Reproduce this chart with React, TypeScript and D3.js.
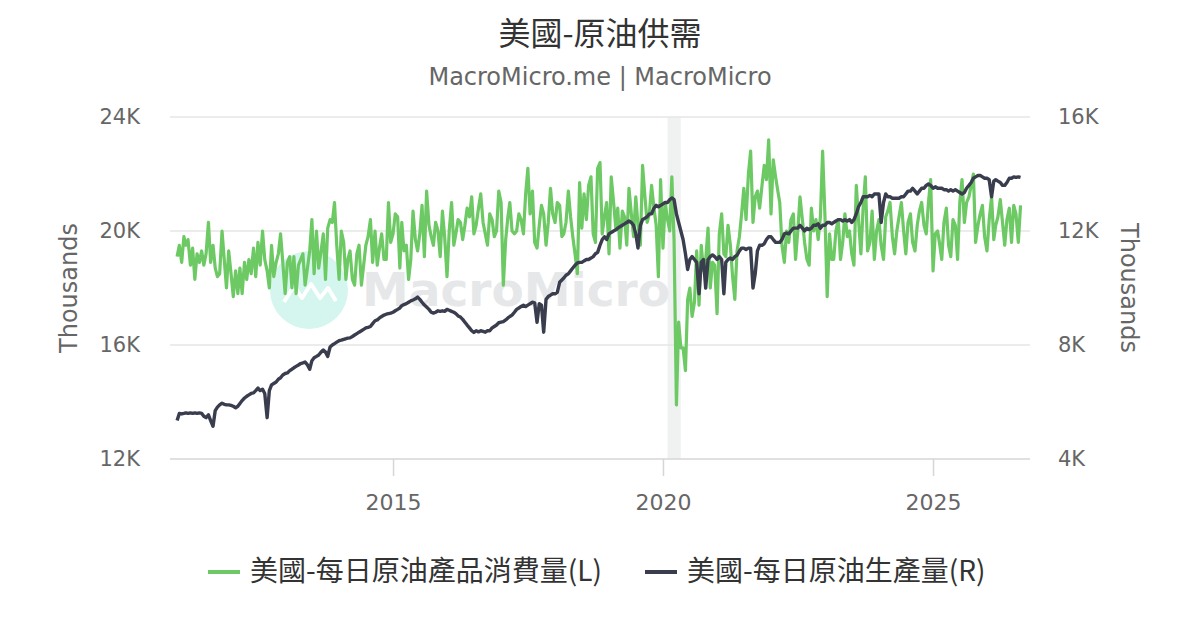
import { useEffect, useRef } from "react";
import * as d3 from "d3";

// semimonthly readings (1st and 16th of each month), thousand barrels per day
const years = [2011, 2012, 2013, 2014, 2015, 2016, 2017, 2018, 2019, 2020, 2021, 2022, 2023, 2024, 2025, 2026];

// 美國-每日原油產品消費量 (left axis)
const cons2011 = [19.1, 19.5, 18.9, 19.8, 19.5, 19.7, 18.8, 19.4, 18.3, 19.2, 18.9, 19.3, 18.8, 19.2, 20.3, 18.9, 19.5, 18.7, 18.4, 18.5, 20.0, 19.0, 18.0, 19.3];
const cons2012 = [18.5, 17.7, 18.6, 17.8, 18.7, 17.8, 18.9, 18.3, 19.0, 18.5, 19.4, 18.4, 19.6, 18.8, 20.0, 19.0, 18.6, 18.0, 19.5, 18.4, 18.9, 19.2, 19.9, 18.9];
const cons2013 = [17.8, 18.9, 19.1, 18.0, 19.1, 17.8, 18.8, 19.0, 19.2, 18.1, 18.7, 19.3, 20.4, 18.5, 20.0, 18.7, 19.3, 19.9, 18.3, 20.1, 20.4, 20.3, 21.0, 19.5];
const cons2014 = [18.3, 20.0, 19.6, 18.3, 19.0, 19.3, 18.3, 18.1, 19.2, 19.5, 18.1, 18.8, 19.5, 19.8, 20.4, 18.9, 20.0, 18.8, 19.4, 19.9, 19.0, 19.0, 21.0, 19.6];
const cons2015 = [19.9, 20.6, 20.5, 18.7, 20.3, 19.3, 19.5, 18.3, 19.0, 20.7, 19.7, 19.3, 19.9, 20.9, 19.1, 21.4, 20.2, 19.8, 19.5, 20.3, 20.0, 19.1, 20.7, 19.8];
const cons2016 = [18.4, 20.0, 21.0, 19.5, 19.9, 20.4, 20.3, 19.7, 20.2, 20.8, 20.5, 21.2, 19.9, 20.2, 20.8, 21.3, 20.3, 19.9, 19.5, 20.6, 20.4, 19.8, 20.0, 21.4];
const cons2017 = [21.0, 18.1, 19.7, 20.5, 21.0, 20.0, 19.9, 20.0, 20.6, 20.4, 19.9, 21.3, 22.2, 20.6, 21.4, 19.6, 19.4, 20.2, 20.9, 20.6, 19.5, 20.3, 21.5, 20.6];
const cons2018 = [20.3, 21.0, 20.9, 19.8, 19.9, 20.3, 21.4, 20.5, 19.8, 19.2, 18.5, 21.7, 20.1, 21.3, 20.4, 21.6, 21.9, 19.9, 19.6, 22.2, 22.4, 19.9, 20.5, 21.0];
const cons2019 = [19.2, 21.9, 21.0, 20.1, 20.8, 19.4, 20.7, 20.5, 19.5, 21.5, 20.6, 19.8, 21.2, 20.2, 19.5, 22.3, 21.2, 20.3, 20.6, 21.6, 20.8, 20.2, 18.4, 21.8];
const cons2020 = [19.4, 21.0, 20.4, 20.0, 21.9, 19.7, 13.9, 16.8, 15.9, 15.9, 15.1, 17.6, 18.0, 17.0, 17.5, 19.3, 17.4, 19.5, 18.6, 19.0, 20.1, 18.0, 18.9, 18.8];
const cons2021 = [17.1, 19.9, 20.6, 19.2, 19.1, 20.2, 19.5, 18.4, 17.6, 19.3, 19.8, 20.6, 21.5, 20.4, 22.0, 22.8, 20.3, 21.2, 21.4, 20.8, 21.6, 22.3, 21.8, 23.2];
const cons2022 = [20.6, 22.5, 21.9, 21.4, 21.0, 19.5, 18.9, 20.0, 19.6, 20.4, 20.6, 19.0, 20.0, 21.2, 20.4, 19.6, 19.0, 18.8, 20.8, 20.0, 20.4, 19.7, 20.5, 22.8];
const cons2023 = [20.5, 17.7, 19.9, 19.0, 19.0, 20.0, 20.4, 19.0, 19.6, 20.6, 19.8, 20.0, 19.2, 18.8, 21.6, 20.4, 19.2, 20.8, 21.9, 19.3, 19.6, 20.7, 19.0, 20.0];
const cons2024 = [20.4, 19.5, 19.0, 20.5, 20.7, 21.0, 19.8, 19.2, 20.0, 20.5, 21.0, 20.0, 19.2, 20.3, 20.6, 19.6, 19.3, 20.2, 20.7, 21.0, 20.2, 19.9, 21.0, 21.8];
const cons2025 = [18.6, 19.9, 20.0, 19.5, 19.0, 20.3, 20.8, 19.5, 19.1, 20.4, 20.2, 19.0, 21.0, 21.8, 20.3, 21.0, 21.2, 21.6, 22.0, 19.6, 20.2, 20.6, 20.9, 19.8];
const cons2026 = [19.3, 20.4, 21.2, 19.7, 20.2, 20.5, 21.1, 20.3, 19.5, 20.4, 20.8, 19.6, 20.9, 20.6, 19.6, 20.9];

// 美國-每日原油生產量 (right axis)
const prod2011 = [5.35, 5.6, 5.58, 5.6, 5.62, 5.6, 5.62, 5.6, 5.62, 5.6, 5.62, 5.6, 5.5, 5.45, 5.55, 5.35, 5.15, 5.7, 5.82, 5.9, 5.96, 5.92, 5.9, 5.9];
const prod2012 = [5.88, 5.85, 5.8, 5.85, 5.95, 6.05, 6.14, 6.2, 6.25, 6.3, 6.32, 6.4, 6.49, 6.4, 6.45, 6.3, 5.45, 6.4, 6.6, 6.65, 6.7, 6.8, 6.85, 6.95];
const prod2013 = [7.0, 7.02, 7.1, 7.15, 7.2, 7.25, 7.3, 7.35, 7.37, 7.4, 7.3, 7.15, 7.45, 7.55, 7.6, 7.65, 7.75, 7.82, 7.75, 7.6, 7.93, 8.0, 8.05, 8.1];
const prod2014 = [8.15, 8.17, 8.2, 8.22, 8.24, 8.25, 8.3, 8.35, 8.4, 8.45, 8.5, 8.55, 8.6, 8.62, 8.65, 8.75, 8.85, 8.88, 8.95, 9.0, 9.05, 9.08, 9.1, 9.12];
const prod2015 = [9.15, 9.2, 9.25, 9.3, 9.38, 9.42, 9.45, 9.5, 9.55, 9.58, 9.62, 9.68, 9.6, 9.5, 9.4, 9.33, 9.25, 9.15, 9.12, 9.15, 9.2, 9.18, 9.2, 9.18];
const prod2016 = [9.25, 9.22, 9.18, 9.15, 9.1, 9.02, 8.98, 8.9, 8.8, 8.7, 8.6, 8.5, 8.44, 8.5, 8.46, 8.5, 8.48, 8.45, 8.5, 8.5, 8.6, 8.65, 8.7, 8.78];
const prod2017 = [8.8, 8.82, 8.88, 8.95, 9.0, 9.05, 9.15, 9.25, 9.3, 9.35, 9.4, 9.35, 9.4, 9.45, 9.5, 9.48, 8.8, 9.45, 9.4, 8.45, 9.6, 9.7, 9.75, 9.8];
const prod2018 = [9.8, 9.85, 10.2, 10.28, 10.35, 10.45, 10.5, 10.6, 10.7, 10.8, 10.88, 10.9, 10.9, 10.95, 11.0, 11.0, 11.05, 11.1, 11.2, 11.25, 11.5, 11.7, 11.8, 11.7];
const prod2019 = [11.9, 11.95, 12.0, 12.04, 12.1, 12.15, 12.2, 12.25, 12.3, 12.35, 12.3, 12.2, 11.9, 11.4, 12.2, 12.4, 12.45, 12.5, 12.6, 12.6, 12.8, 12.9, 12.85, 12.9];
const prod2020 = [12.95, 13.0, 13.0, 13.1, 13.16, 13.1, 12.6, 12.3, 12.0, 11.7, 11.2, 10.65, 11.0, 11.1, 11.0, 10.9, 9.8, 10.9, 11.0, 10.0, 11.0, 11.1, 11.16, 11.1];
const prod2021 = [11.0, 11.1, 11.0, 9.8, 10.9, 11.0, 11.05, 11.0, 11.1, 11.15, 11.3, 11.4, 11.4, 11.35, 11.4, 11.4, 10.0, 10.5, 11.3, 11.5, 11.5, 11.55, 11.7, 11.8];
const prod2022 = [11.8, 11.7, 11.6, 11.6, 11.6, 11.7, 11.9, 11.93, 11.9, 12.0, 12.1, 12.1, 12.1, 12.2, 12.1, 12.0, 12.1, 12.05, 12.1, 12.2, 12.2, 12.25, 12.1, 12.2];
const prod2023 = [12.2, 12.3, 12.3, 12.25, 12.3, 12.35, 12.4, 12.4, 12.35, 12.4, 12.35, 12.4, 12.3, 12.4, 12.6, 12.85, 13.0, 13.2, 13.2, 13.2, 13.25, 13.2, 13.3, 13.3];
const prod2024 = [13.3, 12.3, 13.0, 13.3, 13.2, 13.2, 13.15, 13.15, 13.15, 13.15, 13.2, 13.2, 13.3, 13.4, 13.4, 13.5, 13.4, 13.3, 13.4, 13.5, 13.5, 13.6, 13.65, 13.6];
const prod2025 = [13.5, 13.55, 13.5, 13.5, 13.5, 13.45, 13.45, 13.4, 13.45, 13.4, 13.45, 13.4, 13.35, 13.3, 13.35, 13.5, 13.6, 13.7, 13.85, 13.9, 13.95, 13.95, 13.9, 13.85];
const prod2026 = [13.85, 13.8, 13.2, 13.75, 13.8, 13.75, 13.7, 13.6, 13.6, 13.7, 13.85, 13.85, 13.9, 13.88, 13.9, 13.88];

const consumption = [cons2011, cons2012, cons2013, cons2014, cons2015, cons2016, cons2017, cons2018, cons2019, cons2020, cons2021, cons2022, cons2023, cons2024, cons2025, cons2026];
const production = [prod2011, prod2012, prod2013, prod2014, prod2015, prod2016, prod2017, prod2018, prod2019, prod2020, prod2021, prod2022, prod2023, prod2024, prod2025, prod2026];

const leftTicks = [12, 16, 20, 24];
const rightTicks = [4, 8, 12, 16];
const yearTicks = [2015, 2020, 2025];
const recession = [new Date(2020, 1, 1), new Date(2020, 3, 30)];

const seriesNames = ["美國-每日原油產品消費量(L)", "美國-每日原油生產量(R)"];
const seriesColors = ["#6cc963", "#393d4e"];

const toPoints = (rows) =>
  rows.flatMap((vals, k) =>
    vals.map((v, i) => ({
      date: new Date(years[k], Math.floor(i / 2), i % 2 ? 16 : 1),
      value: v,
    }))
  );

export default function App() {
  const svgRef = useRef(null);

  useEffect(() => {
    document.body.style.margin = "0";
    const svg = d3.select(svgRef.current);
    svg.selectAll("*").remove();

    const width = 1200;
    const height = 630;
    const margin = { top: 117, right: 170, bottom: 171, left: 170 };
    const innerWidth = width - margin.left - margin.right;
    const innerHeight = height - margin.top - margin.bottom;
    const sans = "DejaVu Sans, Verdana, sans-serif";
    const cjk = "'Noto Sans CJK TC', 'Noto Sans CJK SC', sans-serif";

    svg.attr("width", width).attr("height", height).style("background", "#fff");

    const x = d3
      .scaleTime()
      .domain([new Date(2010, 10, 14), new Date(2026, 9, 19)])
      .range([0, innerWidth]);
    const yL = d3.scaleLinear().domain([12, 24]).range([innerHeight, 0]);
    const yR = d3.scaleLinear().domain([4, 16]).range([innerHeight, 0]);

    // title
    svg
      .append("text")
      .attr("x", width / 2)
      .attr("y", 45)
      .attr("text-anchor", "middle")
      .attr("fill", "#333")
      .style("font-family", cjk)
      .style("font-size", "32px")
      .text("美國-原油供需");

    svg
      .append("text")
      .attr("x", width / 2)
      .attr("y", 85)
      .attr("text-anchor", "middle")
      .attr("fill", "#666")
      .style("font-family", sans)
      .style("font-size", "24px")
      .text("MacroMicro.me | MacroMicro");

    const chart = svg
      .append("g")
      .attr("transform", `translate(${margin.left}, ${margin.top})`);

    // recession band
    chart
      .append("rect")
      .attr("x", x(recession[0]))
      .attr("y", 0)
      .attr("width", x(recession[1]) - x(recession[0]))
      .attr("height", innerHeight)
      .attr("fill", "#f0f1f1");

    // grid
    chart
      .selectAll("line.grid")
      .data(leftTicks)
      .enter()
      .append("line")
      .attr("class", "grid")
      .attr("x1", 0)
      .attr("x2", innerWidth)
      .attr("y1", (d) => yL(d))
      .attr("y2", (d) => yL(d))
      .attr("stroke", (d) => (d === 12 ? "#d6d6d6" : "#e6e6e6"))
      .attr("stroke-width", 1.5);

    // watermark
    const wm = chart.append("g").attr("transform", `translate(${-margin.left}, ${-margin.top})`);
    wm.append("circle").attr("cx", 309).attr("cy", 290).attr("r", 39).attr("fill", "#d4f6ee");
    wm.append("path")
      .attr(
        "d",
        d3.line()([
          [284, 302],
          [294, 286],
          [302, 298],
          [311, 284],
          [320, 298],
          [328, 288],
          [336, 301],
        ])
      )
      .attr("fill", "none")
      .attr("stroke", "#fff")
      .attr("stroke-width", 4)
      .attr("stroke-linejoin", "round");
    wm.append("text")
      .attr("x", 362)
      .attr("y", 306)
      .attr("fill", "#e6e7e9")
      .style("font-family", sans)
      .style("font-weight", "bold")
      .style("font-size", "47px")
      .text("MacroMicro");

    // lines
    const lineL = d3
      .line()
      .x((d) => x(d.date))
      .y((d) => yL(d.value));
    const lineR = d3
      .line()
      .x((d) => x(d.date))
      .y((d) => yR(d.value));

    chart
      .append("path")
      .datum(toPoints(consumption))
      .attr("d", lineL)
      .attr("fill", "none")
      .attr("stroke", seriesColors[0])
      .attr("stroke-width", 3.2)
      .attr("stroke-linejoin", "round");

    chart
      .append("path")
      .datum(toPoints(production))
      .attr("d", lineR)
      .attr("fill", "none")
      .attr("stroke", seriesColors[1])
      .attr("stroke-width", 3.4)
      .attr("stroke-linejoin", "round");

    // axes
    const xAxis = d3
      .axisBottom(x)
      .tickValues(yearTicks.map((yr) => new Date(yr, 0, 1)))
      .tickFormat(d3.timeFormat("%Y"))
      .tickSize(17)
      .tickPadding(18);

    chart
      .append("g")
      .attr("transform", `translate(0, ${innerHeight})`)
      .call(xAxis)
      .call((g) => g.select(".domain").remove())
      .call((g) => g.selectAll("line").attr("stroke", "#d6d6d6").attr("stroke-width", 1.5))
      .call((g) =>
        g.selectAll("text").attr("fill", "#666").style("font-family", sans).style("font-size", "22px")
      );

    chart
      .append("g")
      .call(d3.axisLeft(yL).tickValues(leftTicks).tickFormat((d) => `${d}K`).tickSize(0).tickPadding(30))
      .call((g) => g.select(".domain").remove())
      .call((g) =>
        g.selectAll("text").attr("fill", "#666").style("font-family", sans).style("font-size", "21px")
      );

    chart
      .append("g")
      .attr("transform", `translate(${innerWidth}, 0)`)
      .call(d3.axisRight(yR).tickValues(rightTicks).tickFormat((d) => `${d}K`).tickSize(0).tickPadding(28))
      .call((g) => g.select(".domain").remove())
      .call((g) =>
        g.selectAll("text").attr("fill", "#666").style("font-family", sans).style("font-size", "21px")
      );

    svg
      .append("text")
      .attr("transform", `translate(77, ${margin.top + innerHeight / 2}) rotate(-90)`)
      .attr("text-anchor", "middle")
      .attr("fill", "#666")
      .style("font-family", sans)
      .style("font-size", "24px")
      .text("Thousands");

    svg
      .append("text")
      .attr("transform", `translate(1121, ${margin.top + innerHeight / 2}) rotate(90)`)
      .attr("text-anchor", "middle")
      .attr("fill", "#666")
      .style("font-family", sans)
      .style("font-size", "24px")
      .text("Thousands");

    // legend
    const legendX = [208, 645];
    const legend = svg.append("g");
    seriesNames.forEach((name, i) => {
      const g = legend.append("g").attr("transform", `translate(${legendX[i]}, 572)`);
      g.append("line")
        .attr("x1", 0)
        .attr("x2", 32)
        .attr("stroke", seriesColors[i])
        .attr("stroke-width", 4);
      g.append("text")
        .attr("x", 42)
        .attr("y", 9)
        .attr("fill", "#333")
        .style("font-family", cjk)
        .style("font-size", "28px")
        .text(name);
    });
  }, []);

  return <svg ref={svgRef}></svg>;
}
